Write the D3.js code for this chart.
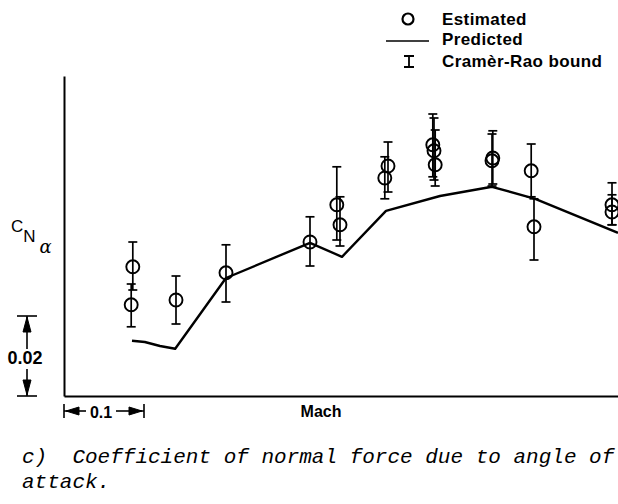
<!DOCTYPE html>
<html lang="en">
<head>
  <meta charset="utf-8">
  <script src="https://cdn.jsdelivr.net/npm/d3@7"></script>
  <style>
    body { margin: 0; background: #fff; }
    text { font-family: "Liberation Sans", Arial, sans-serif; fill: #000; }
    .lbl { font-weight: bold; }
    .cap { font-family: "Liberation Mono", monospace; font-style: italic; font-size: 21px; }
  </style>
</head>
<body>
<script>

  // estimated values with Cramer-Rao bounds
  var mach    = [0.686, 0.684, 0.740, 0.8025, 0.9075, 0.941, 0.945, 1.005, 1.001, 1.061, 1.0625, 1.064, 1.136, 1.135, 1.184, 1.1875, 1.285, 1.285];
  var cna     = [0.0923, 0.0828, 0.0840, 0.0908, 0.0985, 0.1078, 0.1028, 0.1175, 0.1145, 0.1228, 0.1213, 0.1178, 0.1195, 0.1188, 0.1163, 0.1023, 0.1078, 0.1060];
  var cnaLow  = [0.0865, 0.0773, 0.0780, 0.0835, 0.0925, 0.0990, 0.0975, 0.1110, 0.1093, 0.1148, 0.1140, 0.1125, 0.1130, 0.1125, 0.1098, 0.0940, 0.1028, 0.1028];
  var cnaHigh = [0.0985, 0.0880, 0.0900, 0.0978, 0.1048, 0.1173, 0.1098, 0.1235, 0.1198, 0.1305, 0.1295, 0.1265, 0.1263, 0.1255, 0.1230, 0.1093, 0.1133, 0.1103];

  // predicted curve
  var predMach = [0.685, 0.701, 0.720, 0.739, 0.8025, 0.9075, 0.9475, 1.0025, 1.070, 1.135, 1.189, 1.2925];
  var predCna  = [0.0738, 0.0735, 0.0725, 0.0718, 0.0895, 0.0983, 0.0948, 0.1063, 0.1100, 0.1123, 0.1093, 0.1008];

  var legendLabels = ["Estimated", "Predicted", "Cram\u00e8r-Rao bound"];

  const w = 618, h = 504;

  const x = d3.scaleLinear().domain([0.6, 1.3]).range([64, 624]);
  const y = d3.scaleLinear().domain([0.06, 0.14]).range([396, 76]);

  const svg = d3.select("body").append("svg")
    .attr("width", w)
    .attr("height", h);

  const defs = svg.append("defs");
  defs.append("clipPath").attr("id", "plot")
    .append("rect").attr("x", 64).attr("y", 0).attr("width", w - 64).attr("height", 400);

  // axes (no ticks)
  svg.append("g")
    .attr("transform", "translate(0," + y(0.06) + ")")
    .call(d3.axisBottom(x).ticks(0).tickSizeOuter(0))
    .select(".domain").attr("stroke-width", 2);
  svg.append("g")
    .attr("transform", "translate(" + x(0.6) + ",0)")
    .call(d3.axisLeft(y).ticks(0).tickSizeOuter(0))
    .select(".domain").attr("stroke-width", 2);

  const plot = svg.append("g").attr("clip-path", "url(#plot)");

  // predicted line
  const line = d3.line().x(d => x(d[0])).y(d => y(d[1]));
  plot.append("path")
    .datum(predMach.map((m, i) => [m, predCna[i]]))
    .attr("d", line)
    .attr("fill", "none")
    .attr("stroke", "#000")
    .attr("stroke-width", 2.4)
    .attr("stroke-linejoin", "round");

  // error bars
  const pts = mach.map((m, i) => ({ m: m, c: cna[i], lo: cnaLow[i], hi: cnaHigh[i] }));
  const cap = 4.5;
  const bars = plot.selectAll(".bar").data(pts).enter().append("g")
    .attr("class", "bar")
    .attr("stroke", "#000")
    .attr("stroke-width", 1.7);
  bars.append("line")
    .attr("x1", d => x(d.m)).attr("x2", d => x(d.m))
    .attr("y1", d => y(d.lo)).attr("y2", d => y(d.hi));
  bars.append("line")
    .attr("x1", d => x(d.m) - cap).attr("x2", d => x(d.m) + cap)
    .attr("y1", d => y(d.hi)).attr("y2", d => y(d.hi));
  bars.append("line")
    .attr("x1", d => x(d.m) - cap).attr("x2", d => x(d.m) + cap)
    .attr("y1", d => y(d.lo)).attr("y2", d => y(d.lo));

  // estimated circles
  plot.selectAll(".dot").data(pts).enter().append("circle")
    .attr("class", "dot")
    .attr("cx", d => x(d.m))
    .attr("cy", d => y(d.c))
    .attr("r", 6.5)
    .attr("fill", "none")
    .attr("stroke", "#000")
    .attr("stroke-width", 1.9);

  // legend
  const lg = svg.append("g").attr("id", "legend");
  lg.append("circle").attr("cx", 408).attr("cy", 19).attr("r", 5.5)
    .attr("fill", "none").attr("stroke", "#000").attr("stroke-width", 2.2);
  lg.append("line").attr("x1", 386).attr("x2", 429).attr("y1", 41).attr("y2", 41)
    .attr("stroke", "#000").attr("stroke-width", 1.6);
  lg.append("path").attr("d", "M404,56H414M409,56V67M404,67H414")
    .attr("fill", "none").attr("stroke", "#000").attr("stroke-width", 1.8);
  lg.selectAll("text").data(legendLabels).enter().append("text")
    .attr("class", "lbl")
    .attr("x", 442)
    .attr("y", (d, i) => [25, 45, 67][i])
    .style("font-size", "17px")
    .style("letter-spacing", "0.4px")
    .text(d => d);

  // y label C_N_alpha
  const yl = svg.append("text").attr("x", 11).attr("y", 232).style("font-size", "17px");
  yl.append("tspan").text("C");
  yl.append("tspan").attr("dy", 10).text("N");
  yl.append("tspan").attr("dx", 4).attr("dy", 11)
    .style("font-style", "italic").style("font-size", "18px")
    .style("font-family", "'DejaVu Serif', serif").text("\u03b1");

  // vertical scale bar: 0.02
  const sx = 27;
  const vs = svg.append("g").attr("stroke", "#000").attr("stroke-width", 1.6).attr("fill", "#000");
  vs.append("line").attr("x1", sx - 10).attr("x2", sx + 10).attr("y1", y(0.08)).attr("y2", y(0.08));
  vs.append("line").attr("x1", sx - 10).attr("x2", sx + 10).attr("y1", y(0.06)).attr("y2", y(0.06));
  vs.append("line").attr("x1", sx).attr("x2", sx).attr("y1", y(0.08)).attr("y2", y(0.08) + 33);
  vs.append("line").attr("x1", sx).attr("x2", sx).attr("y1", y(0.06) - 27).attr("y2", y(0.06));
  vs.append("path").attr("d", "M" + sx + "," + (y(0.08) + 1) + "l-4,15h8z").attr("stroke-width", 1);
  vs.append("path").attr("d", "M" + sx + "," + (y(0.06) - 1) + "l-4,-15h8z").attr("stroke-width", 1);
  svg.append("text").attr("class", "lbl").attr("x", 25).attr("y", 364)
    .attr("text-anchor", "middle").style("font-size", "18px").text("0.02");

  // horizontal scale bar: 0.1
  const sy = 411;
  const hs = svg.append("g").attr("stroke", "#000").attr("stroke-width", 1.6).attr("fill", "#000");
  hs.append("line").attr("x1", x(0.6)).attr("x2", x(0.6)).attr("y1", sy - 7).attr("y2", sy + 7);
  hs.append("line").attr("x1", x(0.7)).attr("x2", x(0.7)).attr("y1", sy - 7).attr("y2", sy + 7);
  hs.append("line").attr("x1", x(0.6)).attr("x2", x(0.6) + 22).attr("y1", sy).attr("y2", sy);
  hs.append("line").attr("x1", x(0.7) - 28).attr("x2", x(0.7)).attr("y1", sy).attr("y2", sy);
  hs.append("path").attr("d", "M" + (x(0.6) + 2) + "," + sy + "l13,-4v8z").attr("stroke-width", 1);
  hs.append("path").attr("d", "M" + (x(0.7) - 2) + "," + sy + "l-13,-4v8z").attr("stroke-width", 1);
  svg.append("text").attr("class", "lbl").attr("x", 101).attr("y", 418)
    .attr("text-anchor", "middle").style("font-size", "16px").text("0.1");

  svg.append("text").attr("class", "lbl").attr("x", 321).attr("y", 417)
    .attr("text-anchor", "middle").style("font-size", "16px").text("Mach");

  // caption
  svg.append("text").attr("class", "cap").attr("x", 22).attr("y", 463)
    .attr("xml:space", "preserve")
    .text("c)  Coefficient of normal force due to angle of");
  svg.append("text").attr("class", "cap").attr("x", 22).attr("y", 488)
    .text("attack.");

</script>
</body>
</html>
